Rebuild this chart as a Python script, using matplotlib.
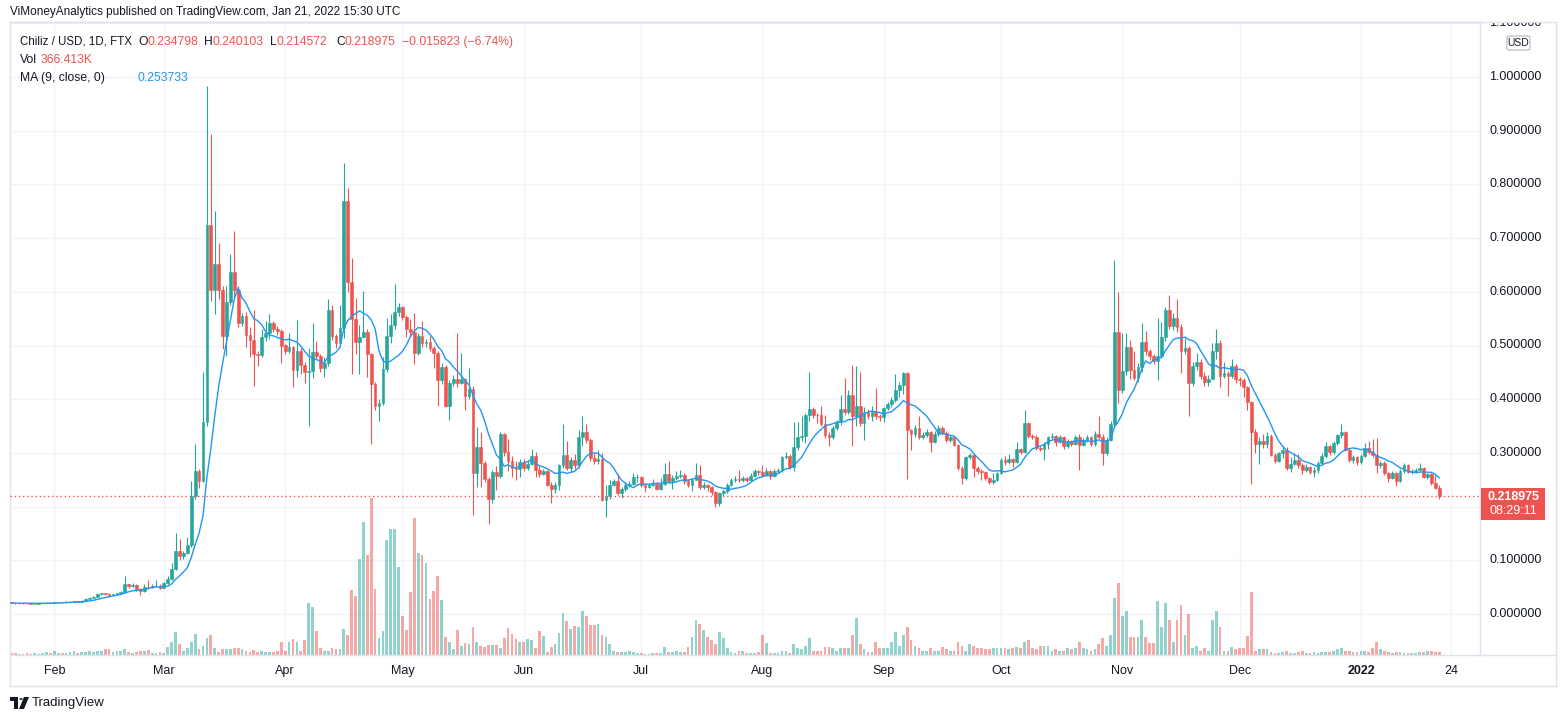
import numpy as np
import pandas as pd
import matplotlib
matplotlib.use('Agg')
import matplotlib.pyplot as plt
import matplotlib.transforms as mtransforms
from matplotlib.patches import Rectangle, FancyBboxPatch, Polygon, Circle

plt.rcParams['font.family'] = ['Liberation Sans', 'DejaVu Sans']

# ---- data: CHZ/USD daily candles, 2021-01-21 .. 2022-01-21 ----
start_date = '2021-01-21'
first_open = 0.0215

closes = [
    # Jan 21 - Jan 31
    0.0205, 0.0200, 0.0203, 0.0201, 0.0196, 0.0192, 0.0194, 0.0198, 0.0205, 0.0210, 0.0208,
    # Feb 1 - Feb 20
    0.0220, 0.0222, 0.0219, 0.0228, 0.0232, 0.0238, 0.0231, 0.0245, 0.0280, 0.0305,
    0.0320, 0.0380, 0.0385, 0.0378, 0.0362, 0.0370, 0.0382, 0.0405, 0.0550, 0.0515,
    # Feb 21 - Mar 23
    0.054, 0.047, 0.042, 0.051, 0.050, 0.052, 0.053, 0.049, 0.058, 0.066,
    0.084, 0.118, 0.108, 0.114, 0.129, 0.220, 0.267, 0.248, 0.357, 0.725,
    0.604, 0.652, 0.604, 0.517, 0.581, 0.637, 0.604, 0.541, 0.555, 0.520, 0.510,
    # Mar 24 - Apr 22
    0.484, 0.482, 0.515, 0.524, 0.541, 0.531, 0.527, 0.500, 0.489, 0.498,
    0.455, 0.489, 0.463, 0.450, 0.453, 0.488, 0.481, 0.459, 0.467, 0.566,
    0.518, 0.505, 0.533, 0.770, 0.619, 0.550, 0.506, 0.515, 0.525, 0.484,
    # Apr 23 - May 23
    0.428, 0.387, 0.392, 0.456, 0.517, 0.538, 0.563, 0.571, 0.553, 0.531,
    0.525, 0.486, 0.518, 0.505, 0.506, 0.495, 0.486, 0.435, 0.460, 0.387,
    0.430, 0.437, 0.431, 0.437, 0.406, 0.419, 0.262, 0.311, 0.281, 0.252, 0.214,
    # May 24 - Jun 23
    0.264, 0.257, 0.335, 0.301, 0.285, 0.271, 0.270, 0.283, 0.271, 0.280,
    0.295, 0.268, 0.261, 0.266, 0.241, 0.233, 0.241, 0.277, 0.297, 0.272,
    0.286, 0.278, 0.329, 0.339, 0.324, 0.290, 0.285, 0.288, 0.213, 0.219, 0.240,
    # Jun 24 - Jul 23
    0.248, 0.226, 0.233, 0.240, 0.243, 0.255, 0.256, 0.241, 0.236, 0.241,
    0.243, 0.233, 0.243, 0.261, 0.247, 0.254, 0.257, 0.259, 0.248, 0.241,
    0.250, 0.259, 0.236, 0.240, 0.236, 0.227, 0.207, 0.225, 0.229, 0.240,
    # Jul 24 - Aug 23
    0.250, 0.252, 0.250, 0.254, 0.250, 0.257, 0.266, 0.264, 0.259, 0.266,
    0.257, 0.266, 0.268, 0.292, 0.295, 0.274, 0.311, 0.329, 0.331, 0.371,
    0.382, 0.371, 0.370, 0.354, 0.333, 0.330, 0.347, 0.358, 0.382, 0.377, 0.408,
    # Aug 24 - Sep 23
    0.368, 0.387, 0.356, 0.377, 0.369, 0.377, 0.369, 0.366, 0.383, 0.391,
    0.399, 0.417, 0.426, 0.448, 0.342, 0.335, 0.347, 0.329, 0.333, 0.339,
    0.321, 0.335, 0.347, 0.337, 0.324, 0.330, 0.315, 0.271, 0.254, 0.292, 0.297,
    # Sep 24 - Oct 24
    0.271, 0.266, 0.264, 0.254, 0.245, 0.250, 0.262, 0.287, 0.283, 0.288,
    0.283, 0.307, 0.302, 0.356, 0.331, 0.330, 0.309, 0.308, 0.316, 0.329,
    0.331, 0.320, 0.329, 0.313, 0.322, 0.316, 0.330, 0.315, 0.324, 0.329, 0.316,
    # Oct 25 - Nov 23
    0.335, 0.330, 0.299, 0.324, 0.354, 0.525, 0.417, 0.453, 0.498, 0.455,
    0.439, 0.460, 0.507, 0.489, 0.481, 0.472, 0.480, 0.515, 0.566, 0.536,
    0.552, 0.534, 0.489, 0.496, 0.430, 0.462, 0.470, 0.444, 0.432, 0.437,
    # Nov 24 - Dec 24
    0.489, 0.505, 0.444, 0.448, 0.444, 0.462, 0.437, 0.435, 0.423, 0.394,
    0.338, 0.317, 0.322, 0.316, 0.331, 0.297, 0.285, 0.299, 0.306, 0.271,
    0.280, 0.287, 0.278, 0.268, 0.274, 0.264, 0.269, 0.281, 0.294, 0.313, 0.301,
    # Dec 25 - Jan 21
    0.319, 0.333, 0.338, 0.306, 0.287, 0.292, 0.283, 0.295, 0.310, 0.302,
    0.297, 0.278, 0.281, 0.262, 0.254, 0.262, 0.248, 0.266, 0.278, 0.264,
    0.266, 0.268, 0.272, 0.255, 0.260, 0.244824, 0.234798, 0.218975,
]

highs = [
    0.0222, 0.0212, 0.0210, 0.0208, 0.0206, 0.0201, 0.0200, 0.0203, 0.0210, 0.0225, 0.0218,
    0.0226, 0.0230, 0.0228, 0.0240, 0.0245, 0.0250, 0.0245, 0.0252, 0.0290, 0.0320,
    0.0340, 0.0395, 0.0395, 0.0392, 0.0385, 0.0380, 0.0395, 0.0420, 0.0700, 0.0560,
    0.057, 0.055, 0.048, 0.055, 0.063, 0.055, 0.063, 0.055, 0.060, 0.070,
    0.095, 0.150, 0.140, 0.118, 0.144, 0.248, 0.317, 0.270, 0.451, 0.983,
    0.893, 0.751, 0.690, 0.610, 0.610, 0.671, 0.714, 0.610, 0.560, 0.562, 0.535,
    0.5655, 0.490, 0.531, 0.5447, 0.5586, 0.545, 0.537, 0.530, 0.502, 0.5225,
    0.500, 0.548, 0.495, 0.470, 0.4962, 0.541, 0.5087, 0.485, 0.478, 0.586,
    0.5759, 0.522, 0.5759, 0.839, 0.794, 0.6625, 0.5877, 0.5378, 0.6015, 0.530,
    0.4858, 0.432, 0.400, 0.4789, 0.5516, 0.5586, 0.614, 0.580, 0.573, 0.556,
    0.550, 0.560, 0.524, 0.5447, 0.512, 0.518, 0.500, 0.490, 0.468, 0.463,
    0.436, 0.445, 0.524, 0.486, 0.440, 0.458, 0.425, 0.349, 0.338, 0.285, 0.255,
    0.268, 0.2758, 0.3382, 0.3368, 0.3264, 0.295, 0.2848, 0.288, 0.2885, 0.286,
    0.307, 0.3022, 0.275, 0.270, 0.2675, 0.245, 0.246, 0.280, 0.3541, 0.3216,
    0.292, 0.2987, 0.3423, 0.368, 0.3541, 0.328, 0.300, 0.3056, 0.300, 0.240, 0.2502,
    0.252, 0.2606, 0.236, 0.245, 0.248, 0.262, 0.2606, 0.2575, 0.2425, 0.244,
    0.2516, 0.246, 0.2536, 0.2814, 0.2848, 0.258, 0.2661, 0.2675, 0.262, 0.251,
    0.254, 0.2814, 0.2779, 0.245, 0.243, 0.239, 0.229, 0.228, 0.233, 0.244,
    0.254, 0.257, 0.2675, 0.257, 0.256, 0.262, 0.270, 0.2675, 0.2779, 0.272,
    0.268, 0.270, 0.271, 0.295, 0.302, 0.298, 0.3576, 0.3576, 0.368, 0.375,
    0.4511, 0.386, 0.374, 0.3867, 0.370, 0.338, 0.350, 0.362, 0.4075, 0.4394, 0.4165,
    0.4629, 0.4615, 0.4511, 0.385, 0.382, 0.388, 0.420, 0.372, 0.386, 0.395,
    0.405, 0.4463, 0.432, 0.450, 0.450, 0.345, 0.352, 0.368, 0.338, 0.345,
    0.341, 0.340, 0.352, 0.350, 0.340, 0.333, 0.332, 0.316, 0.275, 0.295, 0.300,
    0.298, 0.275, 0.270, 0.266, 0.256, 0.262, 0.265, 0.290, 0.2945, 0.298,
    0.290, 0.3195, 0.310, 0.3798, 0.358, 0.336, 0.333, 0.312, 0.320, 0.332,
    0.337, 0.334, 0.333, 0.331, 0.325, 0.324, 0.334, 0.335, 0.328, 0.333, 0.331,
    0.340, 0.368, 0.335, 0.330, 0.360, 0.659, 0.6001, 0.5239, 0.5239, 0.510,
    0.4906, 0.468, 0.5412, 0.5274, 0.493, 0.485, 0.5516, 0.5433, 0.5724, 0.5946,
    0.560, 0.5863, 0.540, 0.5135, 0.500, 0.470, 0.4858, 0.475, 0.450, 0.445,
    0.505, 0.5308, 0.510, 0.4685, 0.452, 0.4754, 0.465, 0.442, 0.440, 0.425,
    0.396, 0.345, 0.330, 0.335, 0.338, 0.335, 0.299, 0.302, 0.3105, 0.3105,
    0.292, 0.300, 0.298, 0.282, 0.280, 0.276, 0.273, 0.285, 0.300, 0.3195, 0.315,
    0.322, 0.336, 0.354, 0.340, 0.310, 0.296, 0.295, 0.298, 0.319, 0.322,
    0.325, 0.328, 0.285, 0.284, 0.264, 0.266, 0.264, 0.270, 0.281, 0.280,
    0.270, 0.271, 0.282, 0.274, 0.262, 0.262, 0.258, 0.240103,
]

lows = [
    0.0198, 0.0192, 0.0195, 0.0194, 0.0190, 0.0186, 0.0187, 0.0190, 0.0196, 0.0200, 0.0200,
    0.0205, 0.0212, 0.0212, 0.0215, 0.0222, 0.0225, 0.0222, 0.0228, 0.0240, 0.0272,
    0.0295, 0.0315, 0.0360, 0.0355, 0.0320, 0.0350, 0.0362, 0.0375, 0.0395, 0.0480,
    0.050, 0.043, 0.035, 0.041, 0.047, 0.048, 0.050, 0.046, 0.048, 0.056,
    0.064, 0.082, 0.100, 0.103, 0.112, 0.125, 0.215, 0.234, 0.245, 0.350,
    0.583, 0.559, 0.586, 0.493, 0.481, 0.575, 0.590, 0.535, 0.536, 0.497, 0.478,
    0.4255, 0.4615, 0.478, 0.508, 0.512, 0.525, 0.520, 0.467, 0.4837, 0.486,
    0.422, 0.442, 0.4477, 0.4304, 0.3507, 0.4394, 0.475, 0.450, 0.4407, 0.462,
    0.510, 0.4962, 0.505, 0.5135, 0.5988, 0.4477, 0.4837, 0.4477, 0.5135, 0.442,
    0.316, 0.380, 0.359, 0.390, 0.450, 0.505, 0.530, 0.555, 0.548, 0.515,
    0.515, 0.465, 0.482, 0.498, 0.498, 0.490, 0.458, 0.387, 0.428, 0.385,
    0.361, 0.425, 0.423, 0.428, 0.3805, 0.400, 0.1843, 0.2363, 0.2363, 0.2467, 0.167,
    0.2065, 0.2315, 0.2536, 0.295, 0.2661, 0.255, 0.2502, 0.255, 0.266, 0.268,
    0.278, 0.255, 0.255, 0.258, 0.238, 0.2065, 0.225, 0.2315, 0.272, 0.268,
    0.265, 0.270, 0.272, 0.3125, 0.318, 0.285, 0.280, 0.280, 0.210, 0.1809, 0.214,
    0.238, 0.222, 0.2155, 0.229, 0.236, 0.240, 0.2465, 0.237, 0.228, 0.234,
    0.238, 0.230, 0.231, 0.241, 0.244, 0.233, 0.250, 0.253, 0.243, 0.236,
    0.2294, 0.250, 0.233, 0.232, 0.2294, 0.222, 0.1996, 0.2017, 0.220, 0.226,
    0.238, 0.245, 0.246, 0.245, 0.246, 0.248, 0.255, 0.259, 0.256, 0.257,
    0.252, 0.255, 0.262, 0.265, 0.288, 0.270, 0.266, 0.305, 0.322, 0.318,
    0.360, 0.365, 0.355, 0.350, 0.3285, 0.3125, 0.325, 0.342, 0.352, 0.370, 0.372,
    0.3125, 0.3507, 0.350, 0.3243, 0.364, 0.360, 0.364, 0.360, 0.358, 0.380,
    0.385, 0.395, 0.405, 0.410, 0.2516, 0.3056, 0.330, 0.325, 0.325, 0.330,
    0.3008, 0.318, 0.332, 0.333, 0.320, 0.321, 0.312, 0.268, 0.2412, 0.250, 0.288,
    0.255, 0.260, 0.2502, 0.250, 0.242, 0.243, 0.248, 0.260, 0.278, 0.279,
    0.273, 0.281, 0.298, 0.300, 0.328, 0.325, 0.305, 0.303, 0.287, 0.307,
    0.325, 0.3125, 0.318, 0.308, 0.310, 0.312, 0.314, 0.2689, 0.312, 0.320, 0.313,
    0.3125, 0.325, 0.2779, 0.296, 0.3215, 0.348, 0.3936, 0.412, 0.445, 0.4373,
    0.435, 0.432, 0.450, 0.482, 0.473, 0.465, 0.4352, 0.476, 0.508, 0.530,
    0.528, 0.525, 0.4491, 0.485, 0.368, 0.425, 0.455, 0.438, 0.425, 0.425,
    0.4370, 0.475, 0.4234, 0.440, 0.4061, 0.440, 0.430, 0.425, 0.405, 0.380,
    0.2412, 0.300, 0.280, 0.310, 0.310, 0.294, 0.281, 0.283, 0.290, 0.268,
    0.265, 0.278, 0.272, 0.2615, 0.265, 0.261, 0.255, 0.262, 0.278, 0.290, 0.296,
    0.298, 0.315, 0.328, 0.303, 0.283, 0.282, 0.278, 0.280, 0.292, 0.298,
    0.292, 0.262, 0.272, 0.258, 0.246, 0.252, 0.238, 0.246, 0.262, 0.262,
    0.260, 0.263, 0.266, 0.253, 0.252, 0.240, 0.233, 0.214572,
]

# relative traded volume (last bar = 366.413K)
volume = [
    6, 5, 4, 4, 5, 4, 5, 4, 6, 7, 5,
    12, 6, 5, 6, 8, 12, 6, 8, 8, 10, 8, 12, 10, 15, 15, 8, 10, 12, 15, 8,
    6, 8, 12, 10, 14, 6, 6, 8, 6, 22, 35, 62, 30, 12, 18, 35, 57, 15, 25, 45,
    54, 18, 8, 15, 15, 15, 18, 20, 15, 12, 8,
    14, 8, 12, 8, 8, 8, 12, 35, 10, 35, 42, 35, 12, 40, 140, 130, 65, 20, 10, 12,
    20, 15, 15, 70, 55, 175, 160, 260, 360, 270,
    425, 180, 45, 65, 312, 340, 342, 238, 105, 68, 170, 372, 275, 272, 248, 152, 172, 215, 150, 50,
    35, 15, 68, 25, 32, 30, 75, 35, 25, 22, 28,
    28, 28, 18, 45, 72, 58, 42, 35, 35, 42, 40, 20, 65, 52, 8, 22, 30, 60, 115, 92,
    70, 78, 75, 120, 105, 80, 80, 85, 55, 48, 30,
    12, 8, 8, 8, 10, 8, 5, 6, 4, 3, 6, 6, 6, 22, 8, 8, 10, 8, 8, 22,
    50, 95, 85, 68, 50, 40, 30, 62, 45, 20,
    8, 5, 12, 12, 5, 5, 5, 8, 55, 33, 5, 5, 5, 10, 12, 5, 30, 20, 15, 25,
    45, 10, 10, 12, 22, 22, 20, 12, 20, 20, 20,
    55, 100, 30, 15, 8, 8, 35, 18, 18, 18, 35, 62, 25, 55, 75, 40, 25, 20, 10, 10,
    18, 12, 12, 22, 15, 10, 10, 35, 25, 10, 30,
    25, 20, 20, 15, 15, 18, 20, 18, 18, 15, 18, 22, 20, 35, 40, 20, 15, 25, 25, 25,
    12, 15, 10, 12, 18, 15, 18, 35, 20, 15, 12,
    15, 30, 45, 25, 55, 155, 195, 105, 120, 50, 50, 48, 95, 50, 32, 32, 145, 75, 140, 95,
    35, 95, 135, 55, 110, 20, 25, 12, 20, 12,
    95, 120, 75, 10, 12, 22, 15, 20, 18, 52, 170, 10, 15, 15, 15, 8, 5, 5, 8, 10,
    6, 6, 8, 12, 6, 5, 8, 6, 8, 8, 8,
    10, 15, 18, 12, 10, 8, 8, 10, 10, 8, 20, 35, 15, 12, 8, 6, 8, 8, 6, 6,
    5, 6, 8, 8, 12, 10, 8, 8,
]

month_ticks = ['2021-02-01', '2021-03-01', '2021-04-01', '2021-05-01', '2021-06-01',
               '2021-07-01', '2021-08-01', '2021-09-01', '2021-10-01', '2021-11-01',
               '2021-12-01', '2022-01-01', '2022-01-24']
month_labels = ['Feb', 'Mar', 'Apr', 'May', 'Jun', 'Jul', 'Aug', 'Sep', 'Oct', 'Nov',
                'Dec', '2022', '24']
price_ticks = [0.0, 0.1, 0.2, 0.3, 0.4, 0.5, 0.6, 0.7, 0.8, 0.9, 1.0, 1.1]

UP, DOWN, MA_C = '#26a69a', '#ef5350', '#2196f3'
TXT, GRID, BORDER = '#131722', '#f0f3fa', '#e0e3eb'

W, H = 1566, 720
L, T, R, B = 10, 22, 1480, 655      # chart pane in pixels
X0, PXD = 11.3, 3.912               # x of first candle, pixels per day
Y0, PXU = 614, 537                  # y of price 0, pixels per 1.0


def fx(px):
    return px / W


def fy(py):
    return 1 - py / H


c = np.array(closes)
o = np.r_[first_open, c[:-1]]
hi = np.array(highs)
lo = np.array(lows)
assert len(c) == len(hi) == len(lo) == len(volume)
x = np.arange(len(c))
up = c >= o
col = np.where(up, UP, DOWN)
t0 = pd.Timestamp(start_date)

fig = plt.figure(figsize=(W / 100, H / 100), dpi=100)
rect = [fx(L), fy(B), fx(R - L), (B - T) / H]

axv = fig.add_axes(rect)
ax = fig.add_axes(rect, sharex=axv)
ax.patch.set_alpha(0)
ax.set_xlim(-(X0 - L) / PXD, (R - X0) / PXD)
ax.set_ylim(-(B - Y0) / PXU, (Y0 - T) / PXU)
axv.set_ylim(0, 425 * (B - T) / 157)

# grid
tick_days = [(pd.Timestamp(d) - t0).days for d in month_ticks]
for d in tick_days:
    axv.axvline(d, color=GRID, lw=1, zorder=0)
ytr = mtransforms.blended_transform_factory(axv.transAxes, ax.transData)
for p in price_ticks:
    axv.plot([0, 1], [p, p], color=GRID, lw=1, transform=ytr, zorder=0)

# volume
axv.bar(x, volume, width=0.7, color=col, alpha=0.5, linewidth=0)

# candles
ax.vlines(x, lo, hi, colors=col, lw=0.8)
ax.bar(x, np.abs(c - o), bottom=np.minimum(o, c), width=0.7, color=col,
       edgecolor=col, linewidth=0.4)

ma = pd.Series(c).rolling(9, min_periods=1).mean()
ax.plot(x, ma, color=MA_C, lw=1.0)
ax.axhline(c[-1], color=DOWN, lw=1, ls=(0, (1, 2)))

for a in (ax, axv):
    a.set_xticks([])
    a.set_yticks([])
for s in ax.spines.values():
    s.set_visible(False)
for s in axv.spines.values():
    s.set_color(BORDER)
    s.set_linewidth(1)

# frame and price scale
fig.add_artist(plt.Line2D([fx(1556), fx(1556)], [fy(T), fy(686)], color=BORDER, lw=1))
fig.add_artist(plt.Line2D([fx(L), fx(1556)], [fy(T), fy(T)], color=BORDER, lw=1))
fig.add_artist(plt.Line2D([fx(R), fx(1556)], [fy(B), fy(B)], color=BORDER, lw=1))
fig.add_artist(plt.Line2D([fx(L), fx(1556)], [fy(686), fy(686)], color=BORDER, lw=1))
fig.add_artist(plt.Line2D([fx(L), fx(L)], [fy(B), fy(686)], color=BORDER, lw=1))
ptr = mtransforms.blended_transform_factory(fig.transFigure, ax.transData)
clip = mtransforms.Bbox.from_extents(R, H - B, 1556, H - T)
for p in price_ticks:
    if abs(p - 0.2) < 1e-9:
        continue
    t = ax.text(fx(1489), p, f'{p:.6f}', transform=ptr, ha='left', va='center',
                fontsize=9, color=TXT, clip_on=True)
    t.set_clip_box(clip)

fig.add_artist(Rectangle((fx(1481), fy(520)), fx(64), 32 / H, color=DOWN, lw=0))
fig.text(fx(1513), fy(497), f'{c[-1]:.6f}', ha='center', va='center', fontsize=9,
         color='white', fontweight='bold')
fig.text(fx(1513), fy(511), '08:29:11', ha='center', va='center', fontsize=9,
         color='white')

fig.add_artist(FancyBboxPatch((fx(1507), fy(50)), fx(23), 14 / H,
                              boxstyle='round,pad=0,rounding_size=0.002',
                              fc='white', ec='#b2b5be', lw=0.8))
fig.text(fx(1518.5), fy(43), 'USD', ha='center', va='center', fontsize=7.5, color=TXT)

# time axis labels
xtr = mtransforms.blended_transform_factory(ax.transData, fig.transFigure)
for d, lab in zip(tick_days, month_labels):
    ax.text(d, fy(671), lab, transform=xtr, ha='center', va='center', fontsize=9,
            color=TXT, fontweight='bold' if lab == '2022' else 'normal')

# header and legend
fig.text(fx(10), fy(12), 'ViMoneyAnalytics published on TradingView.com, Jan 21, 2022 15:30 UTC',
         ha='left', va='center', fontsize=8.5, color=TXT)

renderer = fig.canvas.get_renderer()


def chain(x0, y0, parts, size=8.7):
    xpos = fx(x0)
    for txt, color in parts:
        t = fig.text(xpos, fy(y0), txt, ha='left', va='center', fontsize=size, color=color)
        xpos += t.get_window_extent(renderer).width / W


chg = c[-1] - o[-1]
chain(20, 42, [('Chiliz / USD, 1D, FTX', TXT)], size=8.3)
chain(138, 42, [('O', TXT), (f'{o[-1]:.6f}', DOWN)])
chain(204, 42, [('H', TXT), (f'{hi[-1]:.6f}', DOWN)])
chain(270, 42, [('L', TXT), (f'{lo[-1]:.6f}', DOWN)])
chain(336, 42, [('C', TXT), (f'{c[-1]:.6f}', DOWN)])
chain(402, 42, [(f'\u2212{abs(chg):.6f} (\u2212{abs(chg) / o[-1] * 100:.2f}%)', DOWN)])
chain(20, 60, [('Vol', TXT)])
chain(41, 60, [('366.413K', DOWN)])
chain(20, 78, [('MA (9, close, 0)', TXT)])
chain(137, 78, [(f'{ma.iloc[-1]:.6f}', MA_C)])

# TradingView logo
fig.add_artist(Polygon([[fx(10), fy(697)], [fx(18), fy(697)], [fx(18), fy(709)],
                        [fx(14), fy(709)], [fx(14), fy(701)], [fx(10), fy(701)]],
                       closed=True, color=TXT, lw=0))
fig.add_artist(Circle((fx(21), fy(699)), 1.8 / W, color=TXT, lw=0))
fig.add_artist(Polygon([[fx(24), fy(697)], [fx(29), fy(697)], [fx(24), fy(709)],
                        [fx(19), fy(709)]], closed=True, color=TXT, lw=0))
fig.text(fx(32), fy(703), 'TradingView', ha='left', va='center', fontsize=9.5, color=TXT)

fig.savefig('out.png', dpi=100)
